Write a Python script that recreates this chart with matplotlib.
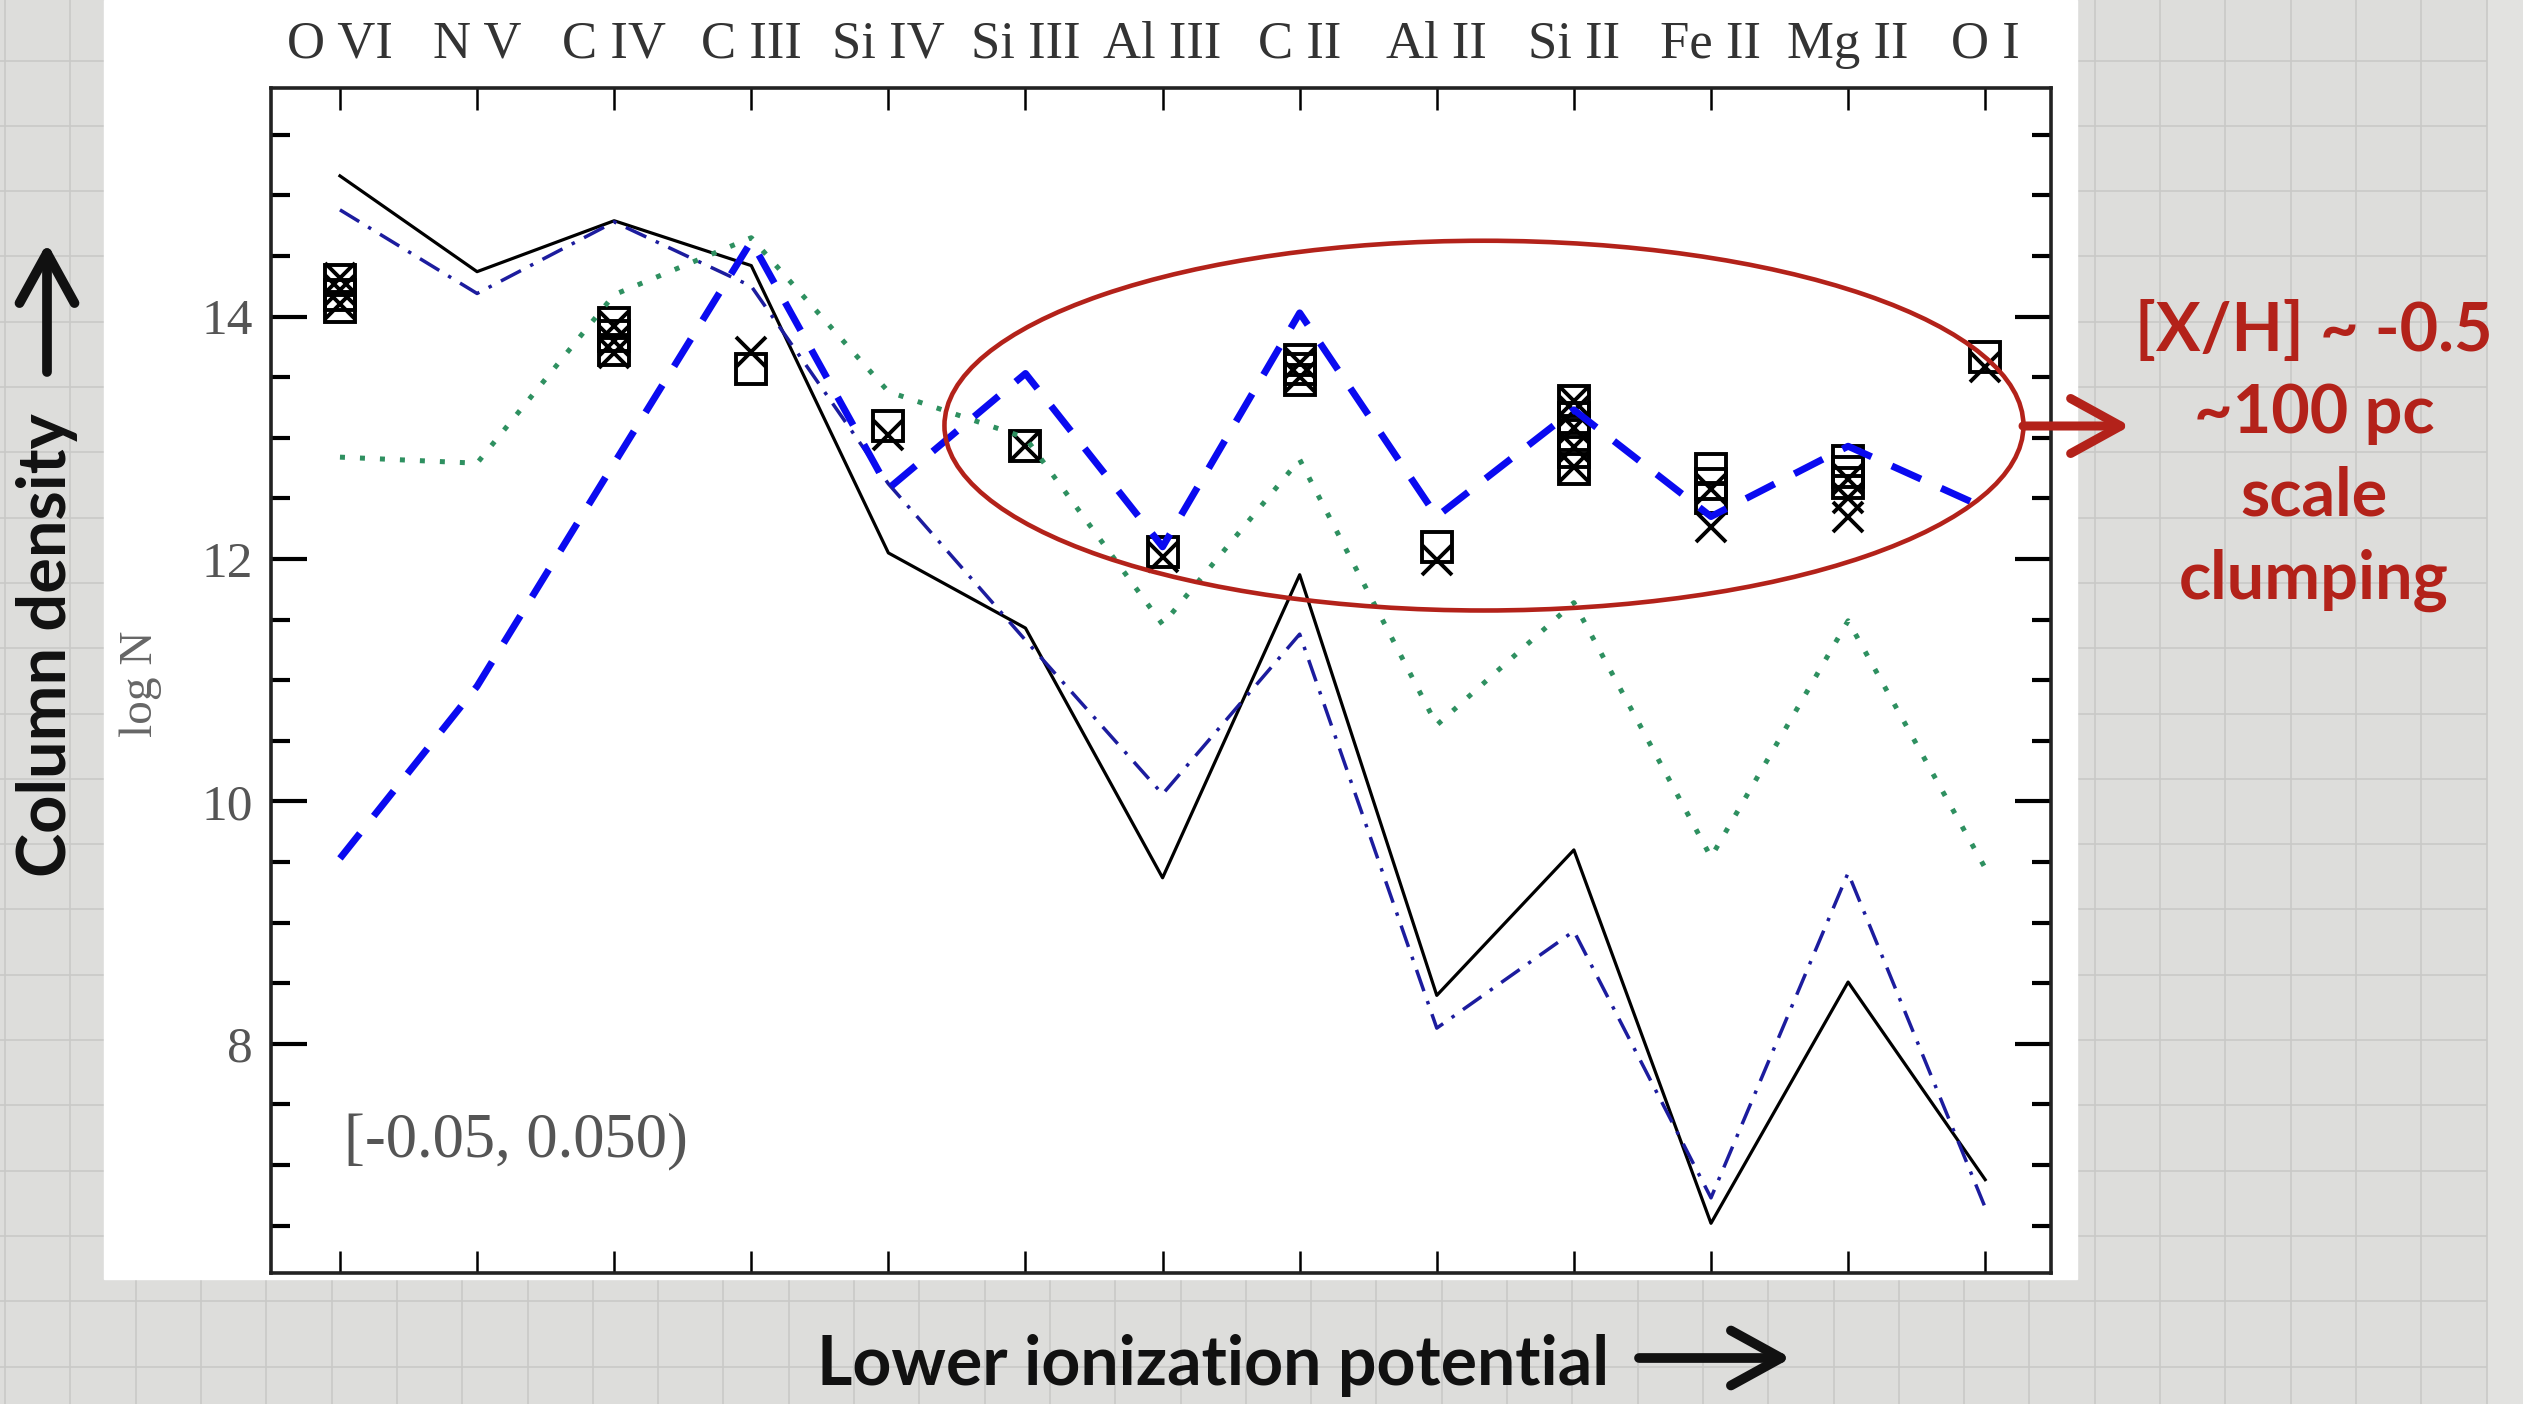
import numpy as np
import matplotlib
matplotlib.use("Agg")
import matplotlib.pyplot as plt
from matplotlib.patches import Ellipse, Rectangle
from matplotlib.ticker import MultipleLocator

# ions, ordered by decreasing ionization potential
species = ["O VI", "N V", "C IV", "C III", "Si IV", "Si III", "Al III",
           "C II", "Al II", "Si II", "Fe II", "Mg II", "O I"]

# model column densities (log N) for each ion
model_solid = [15.16, 14.37, 14.79, 14.42, 12.05, 11.43, 9.37, 11.87, 8.40, 9.60, 6.52, 8.51, 6.88]
model_dashdot = [14.88, 14.19, 14.78, 14.25, 12.62, 11.33, 10.06, 11.38, 8.13, 8.93, 6.73, 9.41, 6.65]
model_dotted = [12.84, 12.79, 14.18, 14.65, 13.38, 13.00, 11.46, 12.82, 10.63, 11.64, 9.54, 11.49, 9.45]
model_dashed = [9.53, 10.95, 12.79, 14.62, 12.58, 13.53, 12.10, 14.03, 12.35, 13.23, 12.35, 12.93, 12.42]

# measured values (boxes and crosses), several components per ion
obs_box = [[14.08, 14.18, 14.30], [], [13.72, 13.84, 13.95], [13.57], [13.10], [12.93],
           [12.06], [13.48, 13.57, 13.64], [12.10], [12.74, 12.88, 13.02, 13.16, 13.30],
           [12.50, 12.62, 12.74], [12.63, 12.72, 12.81], [13.67]]
obs_cross = [[14.10, 14.22, 14.32], [], [13.70, 13.80, 13.92], [13.71], [13.02], [12.93],
             [12.02], [13.50, 13.62], [11.99], [12.76, 12.92, 13.08, 13.22, 13.30],
             [12.26, 12.58], [12.35, 12.50, 12.66], [13.58]]

bin_label = "[-0.05, 0.050)"
note_lines = ["[X/H] ~ -0.5", "~100 pc", "scale", "clumping"]

plt.rcParams["font.family"] = ["Liberation Serif", "DejaVu Serif"]
sans = ["Lato", "DejaVu Sans"]
red = "#b3221a"

W, H = 2523, 1404
fig = plt.figure(figsize=(W / 100, H / 100), dpi=100)
fig.patch.set_facecolor("#dddddb")

# graph-paper backdrop in pixel coordinates
bg = fig.add_axes([0, 0, 1, 1], zorder=0)
bg.set_xlim(0, W)
bg.set_ylim(H, 0)
bg.axis("off")
bg.add_patch(Rectangle((2487, 0), W - 2487, H, color="#e2e2e0", zorder=0))
gx = np.arange(2356, -1, -65.3)
gx = np.append(gx, 2356 + 65.3 * np.arange(1, 3))
gy = 1040 + 65.3 * np.arange(-16, 6)
bg.vlines(gx, 0, H, color="#c9c9c7", lw=1.2, zorder=1)
bg.hlines(gy, 0, 2487, color="#c9c9c7", lw=1.2, zorder=1)
bg.add_patch(Rectangle((104, 0), 2077 - 104, 1279, color="white", zorder=2))

# main panel
ax = fig.add_axes([271 / W, 1 - 1273 / H, (2051 - 271) / W, (1273 - 88) / H], zorder=1)
ax.patch.set_visible(False)
x = np.arange(len(species))

for i, vals in enumerate(obs_box):
    ax.plot([i] * len(vals), vals, "s", ms=22, mfc="none", mec="black", mew=2.8, zorder=3)
for i, vals in enumerate(obs_cross):
    ax.plot([i] * len(vals), vals, "x", ms=21, mec="black", mew=2.8, zorder=3)

ax.plot(x, model_solid, "-", color="black", lw=2.3, zorder=4)
ax.plot(x, model_dashdot, color="#1c1c9e", lw=2.5, ls=(0, (6.5, 3, 1, 3)), zorder=4)
ax.plot(x, model_dotted, color="#2e9060", lw=3.6, ls=(0, (1, 3)), zorder=4)
ax.plot(x, model_dashed, color="#0a0af0", lw=5, ls=(0, (4.6, 3.2)), zorder=5)

ax.add_patch(Ellipse((8.344, 13.1), 7.87, 3.05, fill=False, ec=red, lw=3.3,
                     zorder=6, clip_on=False))

ax.set_xlim(-0.503, 12.48)
ax.set_ylim(6.11, 15.885)
ax.set_xticks(x)
ax.set_xticklabels(species)
ax.set_yticks([8, 10, 12, 14])
ax.yaxis.set_minor_locator(MultipleLocator(0.5))
ax.tick_params(axis="x", which="both", direction="in", top=True, bottom=True,
               labeltop=True, labelbottom=False, length=16, width=1.8,
               pad=14, labelsize=38, labelcolor="#333333")
ax.tick_params(axis="x", which="minor", length=0)
ax.tick_params(axis="y", which="major", direction="in", left=True, right=True,
               length=26, width=3, pad=13, labelsize=37, labelcolor="#555555")
ax.tick_params(axis="y", which="minor", direction="in", left=True, right=True,
               length=14, width=3)
for s in ax.spines.values():
    s.set_linewidth(2.6)
    s.set_color("#222222")

# labels and callouts on top
ov = fig.add_axes([0, 0, 1, 1], zorder=2)
ov.set_xlim(0, W)
ov.set_ylim(H, 0)
ov.axis("off")

ov.text(141, 684, "log N", rotation=90, ha="center", va="center",
        fontsize=34, color="#666666")
ov.text(344, 1141, bin_label, ha="left", va="center", fontsize=45, color="#555555")

ov.text(66, 877, "Column density", rotation=90, rotation_mode="anchor",
        ha="left", va="baseline", fontsize=48, fontweight="bold",
        family=sans, color="#111111")
ov.text(817, 1385, "Lower ionization potential", ha="left", va="baseline",
        fontsize=49, fontweight="bold", family=sans, color="#111111")

arrow_kw = dict(arrowstyle="->,head_length=1.0,head_width=0.55", mutation_scale=36,
                shrinkA=0, shrinkB=0)
ov.annotate("", xy=(47, 243), xytext=(47, 372),
            arrowprops=dict(lw=7, color="#111111", **arrow_kw))
ov.annotate("", xy=(1791, 1358), xytext=(1639, 1358),
            arrowprops=dict(lw=7, color="#111111", **arrow_kw))
ov.annotate("", xy=(2130, 426), xytext=(2023, 426),
            arrowprops=dict(lw=6.5, color=red, **arrow_kw))

for line, yb in zip(note_lines, [351, 433, 516, 599]):
    ov.text(2314, yb, line, ha="center", va="baseline", fontsize=48,
            fontweight="bold", family=sans, color=red)

fig.savefig("out.png", dpi=100, facecolor=fig.get_facecolor())
